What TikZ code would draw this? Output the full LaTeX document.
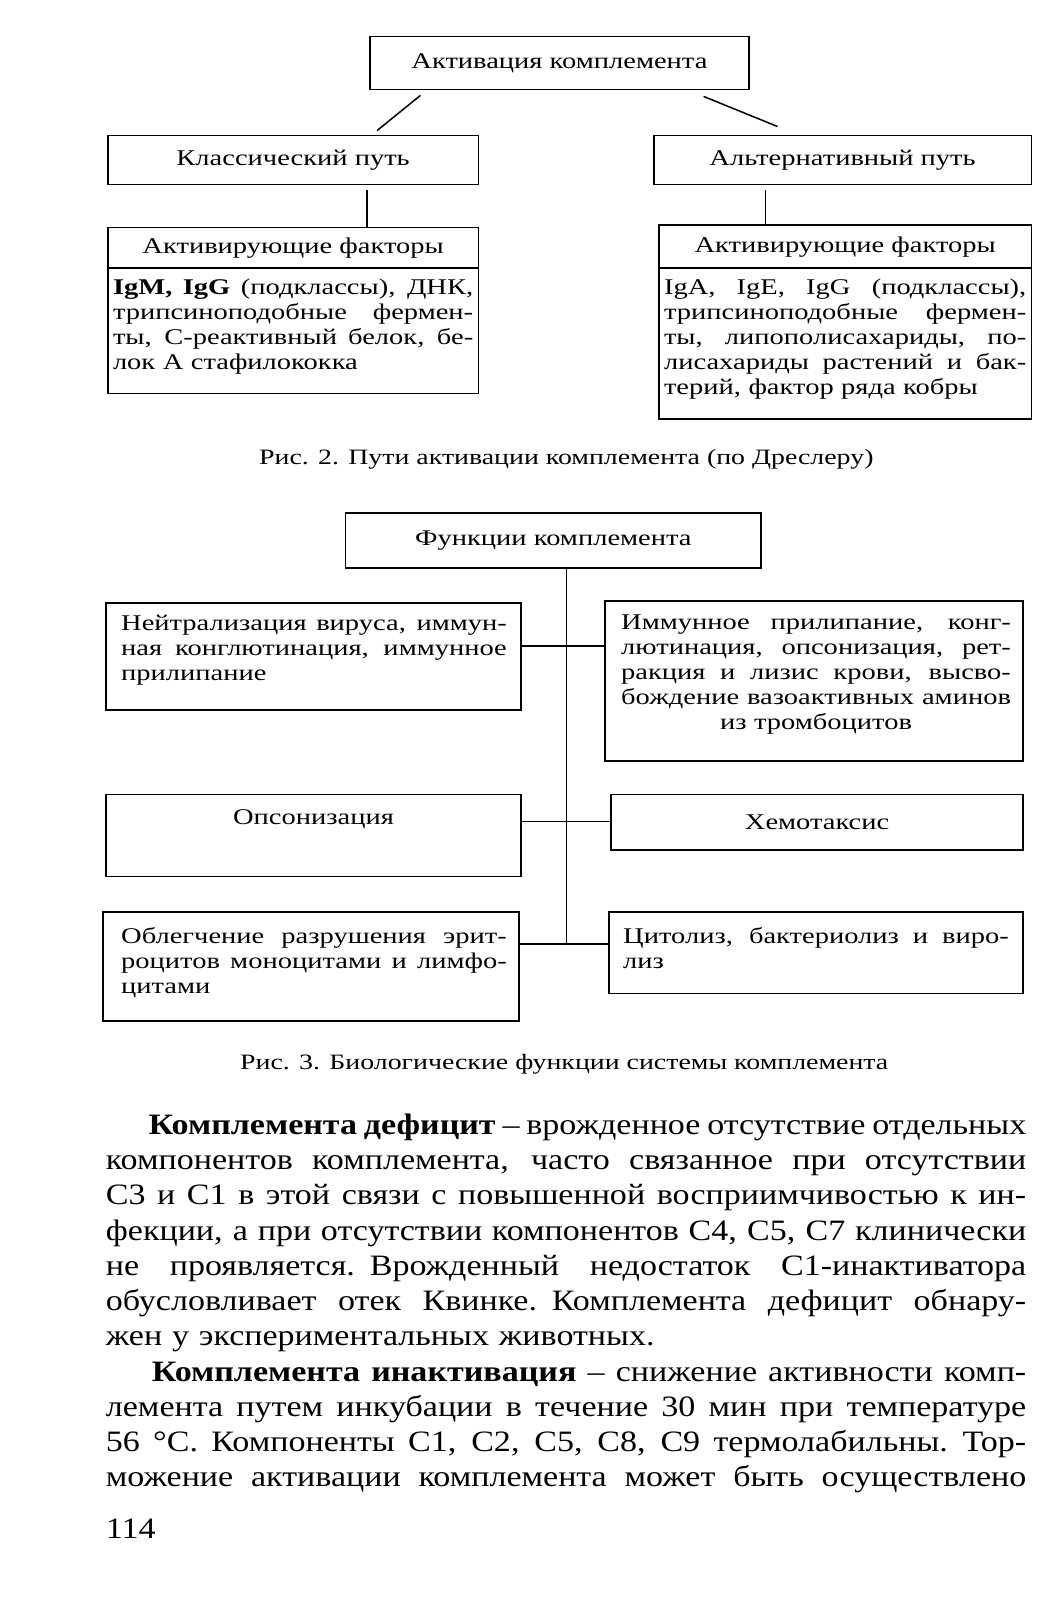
\documentclass[tikz,border=0pt]{standalone}
\usepackage{fontspec}
\setmainfont{Liberation Serif}
\newfontfamily\figfamily[FakeStretch=1.27]{Liberation Serif}
\newfontfamily\textfamily[FakeStretch=1.15]{Liberation Serif}
\usetikzlibrary{calc}

\newlength{\rowwidth}
\newcommand{\fillrow}[1]{\leavevmode{\spaceskip=0.25em plus 3em minus 0.1em\relax\hbox to \rowwidth{#1}}}
\newcommand{\boxfont}{\figfamily\fontsize{22}{24.5}\selectfont}
\newcommand{\pagefont}{\textfamily\fontsize{29}{34.5}\selectfont}

\tikzset{
  frame/.style={draw, line width=1.5pt, inner sep=0pt, anchor=north west, font=\boxfont},
  boxtext/.style={inner sep=0pt, anchor=north west, font=\boxfont, text width=#1, align=left,
    execute at begin node={\global\rowwidth=#1\relax}},
  caption/.style={inner sep=0pt, font=\figfamily\fontsize{21.5}{24}\selectfont},
  pagetext/.style={inner sep=0pt, anchor=north west, font=\pagefont, text width=902pt, align=left,
    execute at begin node={\global\rowwidth=902pt\relax}},
}

\begin{document}
\begin{tikzpicture}[x=1pt, y=-1pt, line width=1.5pt]
  \fill[white] (0,0) rectangle (1035,1568);
  \useasboundingbox (0,0) rectangle (1035,1568);

  % Рис. 2
  \node[frame, minimum width=371pt, minimum height=52pt] (act) at (362,35) {Активация комплемента};
  \node[frame, minimum width=363pt, minimum height=48pt] (cls) at (105,132) {Классический путь};
  \node[frame, minimum width=370pt, minimum height=48pt] (alt) at (640,132) {Альтернативный путь};
  \node[frame, minimum width=363pt, minimum height=40pt] (clsf) at (105,222) {Активирующие факторы};
  \node[frame, minimum width=363pt, minimum height=123pt] (clsb) at (105,262) {};
  \node[frame, minimum width=365pt, minimum height=42pt] (altf) at (645,220) {Активирующие факторы};
  \node[frame, minimum width=365pt, minimum height=148pt] (altb) at (645,262) {};

  \node[boxtext=353pt] (clst) at ($(clsb.north west)+(5,11)$) {%
    \fillrow{\textbf{IgM, IgG} (подклассы), ДНК,}\\
    \fillrow{трипсиноподобные фермен-}\\
    \fillrow{ты, C-реактивный белок, бе-}\\
    лок А стафилококка};
  \node[boxtext=355pt] (altt) at ($(altb.north west)+(5,11)$) {%
    \fillrow{IgA, IgE, IgG (подклассы),}\\
    \fillrow{трипсиноподобные фермен-}\\
    \fillrow{ты, липополисахариды, по-}\\
    \fillrow{лисахариды растений и бак-}\\
    терий, фактор ряда кобры};

  \draw ($(act.south west)+(50,5)$) -- ($(cls.north east)+(-100,-4)$);
  \draw ($(act.south east)+(-45,6)$) -- ($(alt.north west)+(122,-8)$);
  \draw ($(cls.south east)+(-110,5)$) coordinate (c1) -- (c1 |- clsf.north);
  \draw ($(alt.south west)+(110,5)$) coordinate (c2) -- (c2 |- altf.north);

  \node[caption] (cap2) at (555,450) {Рис. 2. Пути активации комплемента (по Дреслеру)};

  % Рис. 3
  \node[frame, minimum width=407pt, minimum height=54pt] (fun) at (338,502) {Функции комплемента};
  \node[frame, minimum width=407pt, minimum height=105pt] (l1) at (103,590) {};
  \node[frame, minimum width=410pt, minimum height=157pt] (r1) at (592,588) {};
  \node[frame, minimum width=407pt, minimum height=80pt] (l2) at (103,778) {};
  \node[frame, minimum width=404pt, minimum height=54pt] (r2) at (598,778) {Хемотаксис};
  \node[frame, minimum width=408pt, minimum height=107pt] (l3) at (100,893) {};
  \node[frame, minimum width=406pt, minimum height=80pt] (r3) at (596,893) {};

  \node[boxtext=378pt] (l1t) at ($(l1.north west)+(15,12)$) {%
    \fillrow{Нейтрализация вируса, иммун-}\\
    \fillrow{ная конглютинация, иммунное}\\
    прилипание};
  \node[boxtext=382pt, align=center] (r1t) at ($(r1.north west)+(16,14)$) {%
    \fillrow{Иммунное прилипание, конг-}\\
    \fillrow{лютинация, опсонизация, рет-}\\
    \fillrow{ракция и лизис крови, высво-}\\
    \fillrow{бождение вазоактивных аминов}\\
    из тромбоцитов};
  \node[inner sep=0pt, font=\boxfont] (l2t) at ($(l2.north)+(0,25)$) {Опсонизация};
  \node[boxtext=378pt] (l3t) at ($(l3.north west)+(18,15)$) {%
    \fillrow{Облегчение разрушения эрит-}\\
    \fillrow{роцитов моноцитами и лимфо-}\\
    цитами};
  \node[boxtext=378pt] (r3t) at ($(r3.north west)+(14,15)$) {%
    \fillrow{Цитолиз, бактериолиз и виро-}\\
    лиз};

  \coordinate (row1) at (555,633);
  \coordinate (row2) at (555,805);
  \coordinate (row3) at (555,925);
  \draw (fun.south -| row1) -- (row3);
  \draw (l1.east |- row1) -- (r1.west |- row1);
  \draw (l2.east |- row2) -- (r2.west |- row2);
  \draw (l3.east |- row3) -- (r3.west |- row3);

  \node[caption] (cap3) at (553,1043) {Рис. 3. Биологические функции системы комплемента};

  % текст страницы
  \node[pagetext] (txt) at (103,1091) {%
    \fillrow{\hspace*{42pt}\textbf{Комплемента дефицит} – врожденное отсутствие отдельных}\\
    \fillrow{компонентов комплемента, часто связанное при отсутствии}\\
    \fillrow{C3 и C1 в этой связи с повышенной восприимчивостью к ин-}\\
    \fillrow{фекции, а при отсутствии компонентов C4, C5, C7 клинически}\\
    \fillrow{не проявляется. Врожденный недостаток C1-инактиватора}\\
    \fillrow{обусловливает отек Квинке. Комплемента дефицит обнару-}\\
    жен у экспериментальных животных.\\
    \fillrow{\hspace*{45pt}\textbf{Комплемента инактивация} – снижение активности комп-}\\
    \fillrow{лемента путем инкубации в течение 30 мин при температуре}\\
    \fillrow{56 °C. Компоненты C1, C2, C5, C8, C9 термолабильны. Тор-}\\
    \fillrow{можение активации комплемента может быть осуществлено}};
  \node[inner sep=0pt, anchor=west, font=\pagefont] (pnum) at (103,1498) {114};
\end{tikzpicture}
\end{document}
